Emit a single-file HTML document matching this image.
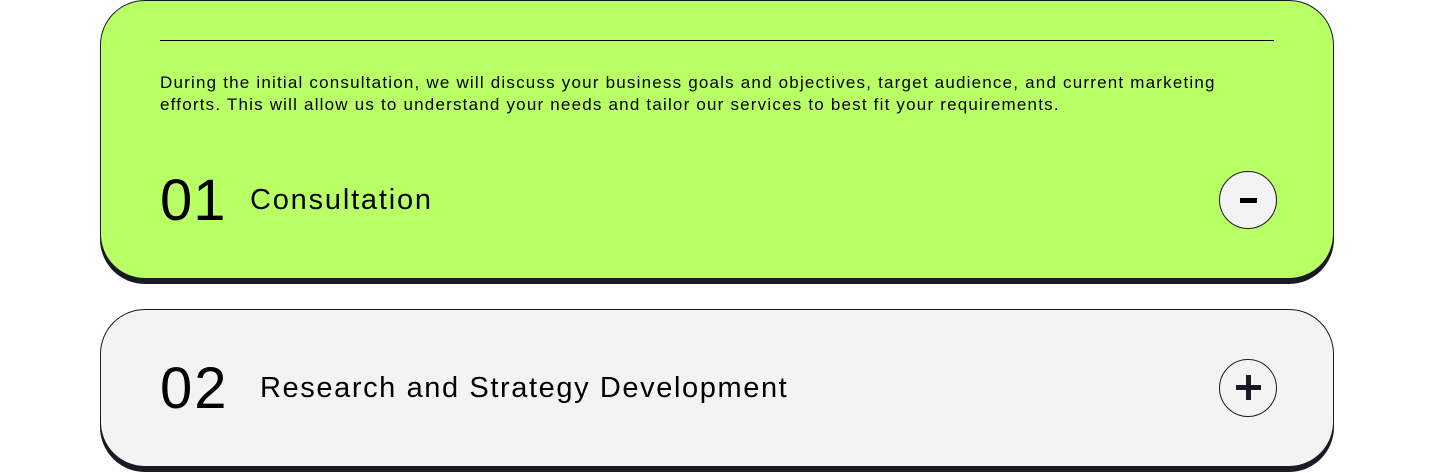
<!DOCTYPE html>
<html><head><meta charset="utf-8"><style>
body{margin:0;width:1434px;height:473px;background:#fff;font-family:"Liberation Sans",sans-serif;position:relative;overflow:hidden;color:#000}
.card{position:absolute;left:100px;width:1232px;border:1px solid #191a23;border-radius:45px;box-shadow:0 5px 0 #191a23;box-sizing:content-box}
.c1{top:0;height:277px;background:#b9ff66}
.c2{top:309px;height:156px;background:#f3f3f3}
.line{position:absolute;left:59px;right:59px;top:39px;height:1px;background:#000}
.desc{position:absolute;left:59px;top:71px;width:1110px;font-size:17px;line-height:22px;letter-spacing:1.2px}
.num{position:absolute;font-size:58px;line-height:56px;font-weight:400;letter-spacing:1px}
.title{position:absolute;font-size:29px;line-height:32px;letter-spacing:1.8px}
.btn{position:absolute;left:1118px;width:56px;height:56px;border-radius:50%;border:1px solid #191a23;background:#f3f3f3}
.minus{position:absolute;left:20px;top:26px;width:17px;height:5px;background:#000}
.ph{position:absolute;left:16px;top:25px;width:25px;height:5px;background:#191a23}
.pv{position:absolute;left:26px;top:15px;width:5px;height:25px;background:#191a23}
</style></head><body>
<div class="card c1">
 <div class="line"></div>
 <div class="desc">During the initial consultation, we will discuss your business goals and objectives, target audience, and current marketing<br>efforts. This will allow us to understand your needs and tailor our services to best fit your requirements.</div>
 <div class="num" style="left:59px;top:172px">01</div>
 <div class="title" style="left:149px;top:183px">Consultation</div>
 <div class="btn" style="top:170px"><div class="minus"></div></div>
</div>
<div class="card c2">
 <div class="num" style="left:59px;top:51px;letter-spacing:2px">02</div>
 <div class="title" style="left:159px;top:62px;letter-spacing:1.6px">Research and Strategy Development</div>
 <div class="btn" style="top:49px"><div class="ph"></div><div class="pv"></div></div>
</div>
</body></html>
